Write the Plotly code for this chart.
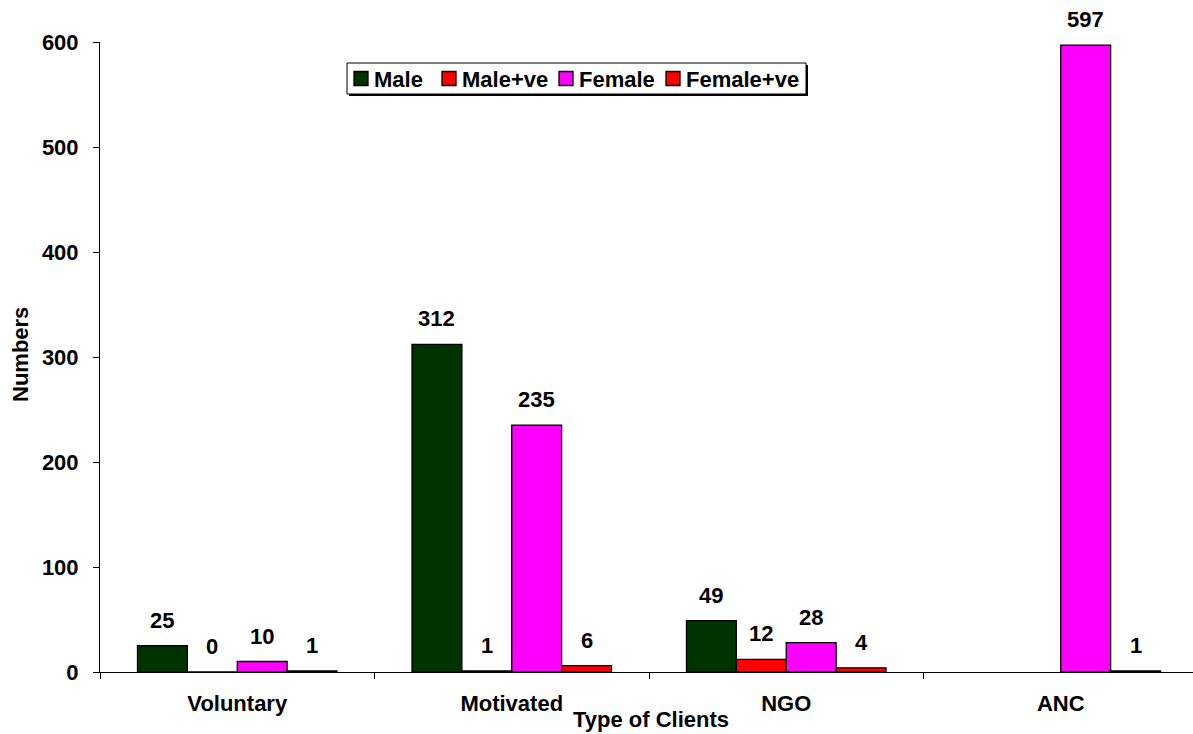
import plotly.graph_objects as go

# Client counts by type of client
categories = ["Voluntary", "Motivated", "NGO", "ANC"]
series_names = ["Male", "Male+ve", "Female", "Female+ve"]
male = [25, 312, 49, None]
male_pos = [0, 1, 12, None]
female = [10, 235, 28, 597]
female_pos = [1, 6, 4, 1]
series_values = [male, male_pos, female, female_pos]
series_colors = ["#003300", "#FF0000", "#FF00FF", "#FF0000"]
y_ticks = [0, 100, 200, 300, 400, 500, 600]

FONT = "Liberation Sans, Arial, sans-serif"
FS = 22

# Plot area geometry (pixels)
W, H = 1193, 734
L, R, T, B = 100, 0, 42, 62
PW, PH = W - L - R, H - T - B
BARGAP = 0.2732
CAT_PX = 274.5                      # pixel width of one category
X_RANGE = [-0.5, -0.5 + PW / CAT_PX]
BAR_PX = CAT_PX * (1 - BARGAP) / len(series_names)


def px_x(px):
    return (px - L) / PW


def px_y(py):
    return (H - B - py) / PH


fig = go.Figure()
for name, vals, col in zip(series_names, series_values, series_colors):
    fig.add_trace(go.Bar(
        x=categories, y=vals, name=name,
        marker=dict(color=col, line=dict(color="black", width=1.3)),
        showlegend=False,
    ))

# Value labels above each bar
annotations = []
n = len(series_names)
for i, vals in enumerate(series_values):
    shift = (i - (n - 1) / 2) * BAR_PX
    for cat, v in zip(categories, vals):
        if v is None:
            continue
        annotations.append(dict(
            x=cat, y=v, xref="x", yref="y", text=str(v), showarrow=False,
            xshift=shift, yshift=11, yanchor="bottom",
            font=dict(family=FONT, size=FS, color="black"),
        ))

# Axis titles
annotations.append(dict(
    x=px_x(651), y=px_y(719), xref="paper", yref="paper", text="<b>Type of Clients</b>",
    showarrow=False, xanchor="center", yanchor="middle",
    font=dict(family=FONT, size=FS, color="black"),
))
annotations.append(dict(
    x=px_x(20), y=px_y(355), xref="paper", yref="paper", text="<b>Numbers</b>",
    showarrow=False, xanchor="center", yanchor="middle", textangle=-90,
    font=dict(family=FONT, size=FS, color="black"),
))

# Legend box with shadow
shapes = []
lx0, ly0, lx1, ly1 = 347, 63, 806, 94
shapes.append(dict(type="rect", xref="paper", yref="paper",
                   x0=px_x(lx0 + 2), x1=px_x(lx1 + 2), y0=px_y(ly0 + 2), y1=px_y(ly1 + 2),
                   line=dict(width=0), fillcolor="black", layer="above"))
shapes.append(dict(type="rect", xref="paper", yref="paper",
                   x0=px_x(lx0), x1=px_x(lx1), y0=px_y(ly0), y1=px_y(ly1),
                   line=dict(width=1, color="black"), fillcolor="white", layer="above"))
item_x = [354, 442, 559, 666]
sq = 14
ly_mid = (ly0 + ly1) / 2
for name, col, sx in zip(series_names, series_colors, item_x):
    shapes.append(dict(type="rect", xref="paper", yref="paper",
                       x0=px_x(sx), x1=px_x(sx + sq), y0=px_y(ly_mid - sq / 2), y1=px_y(ly_mid + sq / 2),
                       line=dict(width=1.3, color="black"), fillcolor=col, layer="above"))
    annotations.append(dict(
        x=px_x(sx + sq + 4), y=px_y(ly_mid + 1), xref="paper", yref="paper", text=f"<b>{name}</b>",
        showarrow=False, xanchor="left", yanchor="middle",
        font=dict(family=FONT, size=FS, color="black"),
    ))

fig.update_layout(
    width=W, height=H,
    margin=dict(l=L, r=R, t=T, b=B, pad=0),
    paper_bgcolor="white", plot_bgcolor="white",
    barmode="group", bargap=BARGAP, bargroupgap=0,
    font=dict(family=FONT, size=FS, color="black", weight="bold"),
    annotations=annotations, shapes=shapes,
    showlegend=False,
)
fig.update_xaxes(
    type="category", range=X_RANGE, tickson="boundaries",
    ticks="outside", ticklen=6, tickwidth=1, tickcolor="black",
    showline=True, linecolor="black", linewidth=1, showgrid=False,
    tickfont=dict(family=FONT, size=FS, color="black", weight="bold"),
    ticklabelstandoff=12,
)
fig.update_yaxes(
    range=[0, 600], tickvals=y_ticks,
    ticks="outside", ticklen=6, tickwidth=1, tickcolor="black",
    showline=True, linecolor="black", linewidth=1, showgrid=False, zeroline=False,
    tickfont=dict(family=FONT, size=FS, color="black", weight="bold"),
    ticklabelstandoff=10,
)

fig.write_html("out.html")
